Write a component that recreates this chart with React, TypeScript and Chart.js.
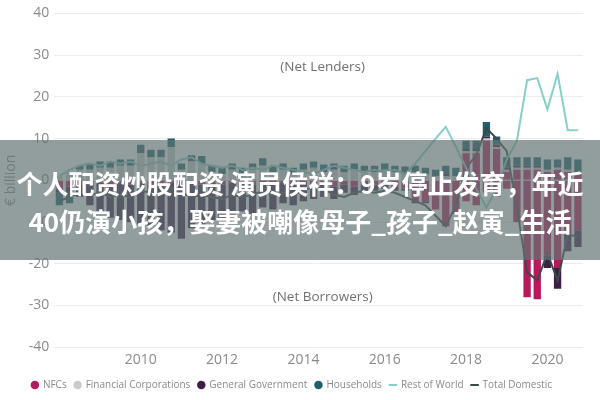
import { useEffect, useRef } from "react";
import { Chart, registerables } from "chart.js";

Chart.register(...registerables);

// quarterly, 2008 Q1 .. 2020 Q4, € billion
const years = [2008, 2009, 2010, 2011, 2012, 2013, 2014, 2015, 2016, 2017, 2018, 2019, 2020];
const quarterNames = ["Q1", "Q2", "Q3", "Q4"];
const categories = years.flatMap((y) => quarterNames.map((q) => `${y} ${q}`));
const tickYears = [2010, 2012, 2014, 2016, 2018, 2020];

const nfcs = [
  -2, -1.5, -1, -1,
  -0.5, -1, -0.5, -1,
  -0.5, -1, -1, -0.5,
  -1, -0.5, -1, -0.5,
  -1, -0.5, -0.5, -1,
  -0.5, -1, -0.5, -1,
  -1, -0.5, -1, -1.5,
  -1, -1.5, -1, -1,
  -1, -1.5, -2, -5,
  -5, -7, -11, -8,
  -5, -6, -3, -4,
  -2, -10, -28, -28.5,
  -18, -21, -13, -12,
];
// NFC amounts drawn above the zero line in the same quarters
const nfcsAbove = [
  0, 0, 0, 0,
  0, 0, 0, 0,
  0, 0, 0, 0,
  0, 0, 0, 0,
  0, 0, 0, 0,
  0, 0, 0, 0,
  0, 0, 0, 0,
  0, 0, 0, 0,
  0, 0, 0, 0,
  0, 0, 0, 0,
  6.5, 6.5, 9.5, 7.5,
  2, 2.5, 2.5, 2.5,
  2, 2.5, 2, 1.5,
];
const financialCorps = [
  1, 2, 2.5, 2.5,
  3, 3, 3.5, 3.5,
  6.5, 5.5, 5.5, 8,
  2.5, 4.5, 4, 2,
  1.5, 2.5, 1.5, 2.5,
  3.5, 2, 2.5, 1.5,
  2.5, 3, 2, 2.5,
  2, 2.5, 2, 2,
  2.5, 2, 1.5, 2,
  1.5, 1, 1, 1,
  0.5, 0.5, 0.5, 0.5,
  0.5, 0.5, 0.5, 0.5,
  0.5, 0.5, 0.5, 0.5,
];
const generalGov = [
  -1, -2, -3, -5,
  -7, -8, -9, -9,
  -10, -10, -11, -12,
  -13, -11, -10, -9,
  -8, -8, -7, -7,
  -6, -6, -5, -5,
  -4, -4, -3, -3,
  -2, -2, -2, -1.5,
  -1, -1, -0.5, -0.5,
  -0.5, 0, 0.5, 0,
  0.5, 0.5, 0.5, 0.5,
  0.5, 0.5, 0.5, 0.5,
  -3, -5, -4, -4,
];
const households = [
  -3, -2, 1, 1.5,
  1.5, 1.5, 1.5, 1.5,
  2, 1.8, 1.8, 2,
  1.5, 1.5, 1.8, 1.6,
  1.5, 1.5, 1.5, 1.5,
  1.8, 1.5, 1.5, 1.5,
  1.5, 1.5, 1.8, 1.5,
  1.5, 1.5, 1.5, 1.5,
  1.5, 1.5, 1.8, 1.5,
  1.5, 1.5, 2, 2,
  2, 2, 3.5, 2,
  2.5, 2, 2, 2,
  2.5, 2, 3, 3,
];
const restOfWorld = [
  1, 2.5, 3.5, 4,
  3.5, 4.5, 4, 4.5,
  3.5, 4, 4.5, 3.5,
  5, 5.5, 4, 3.5,
  3, 3.5, 2.5, 3,
  2.5, 3.5, 3, 2.5,
  2, 1.5, 2.5, 3.5,
  3, 2.5, 2, 2.5,
  2, 2.5, 1.5, 4,
  7, 10, 12.8, 8,
  3, -2, -6.5, -2,
  5, 9.5, 24, 24.5,
  17, 25.5, 12, 12,
];
const totalDomestic = [
  -5, -4, -3, -3.5,
  -3, -4, -3.5, -4,
  -2.5, -3, -3.5, -2,
  -3, -4, -3.5, -4,
  -4.5, -3.5, -4, -3.5,
  -2.5, -3.5, -3, -3.5,
  -2.5, -1.5, -2, -3.5,
  -4, -3, -2.5, -3,
  -2.5, -3, -4, -5,
  -6, -8.5, -11, -6,
  0, 6, 12.5, 10,
  2, -6.5, -22, -24,
  -17.5, -24, -13, -13.5,
];

const zoneNotes = ["(Net Lenders)", "(Net Borrowers)"];
const bannerLines = [
  "个人配资炒股配资 演员侯祥：9岁停止发育，年近",
  "40仍演小孩，娶妻被嘲像母子_孩子_赵寅_生活",
];

const zoneNotesPlugin = {
  id: "zoneNotes",
  afterDatasetsDraw(chart: Chart) {
    const { ctx, chartArea } = chart;
    const y = chart.scales.y;
    const cx = (chartArea.left + chartArea.right) / 2 + 4;
    ctx.save();
    ctx.font = '13.5px "Open Sans", sans-serif';
    ctx.fillStyle = "#72706e";
    ctx.textAlign = "center";
    ctx.textBaseline = "middle";
    ctx.fillText(zoneNotes[0], cx, y.getPixelForValue(27));
    ctx.fillText(zoneNotes[1], cx, y.getPixelForValue(-28));
    ctx.restore();
  },
};

export default function App() {
  const chartRef = useRef<HTMLCanvasElement>(null);

  useEffect(() => {
    if (!chartRef.current) return;

    const barCommon = {
      type: "bar" as const,
      stack: "sectors",
      order: 1,
      pointStyle: "circle",
      barPercentage: 0.72,
      categoryPercentage: 1,
    };

    const chart = new Chart(chartRef.current, {
      type: "bar",
      data: {
        labels: categories,
        datasets: [
          { ...barCommon, label: "NFCs", data: nfcs, backgroundColor: "#b8195c" },
          { ...barCommon, label: "NFCs above", data: nfcsAbove, backgroundColor: "#b8195c" },
          { ...barCommon, label: "Financial Corporations", data: financialCorps, backgroundColor: "#cbcbcb" },
          { ...barCommon, label: "General Government", data: generalGov, backgroundColor: "#3b1f46" },
          { ...barCommon, label: "Households", data: households, backgroundColor: "#1d5f6d" },
          {
            type: "line",
            label: "Rest of World",
            data: restOfWorld,
            borderColor: "#86d0c9",
            backgroundColor: "#86d0c9",
            borderWidth: 2,
            pointRadius: 0,
            pointStyle: "line",
            order: 0,
          },
          {
            type: "line",
            label: "Total Domestic",
            data: totalDomestic,
            borderColor: "#3c4849",
            backgroundColor: "#3c4849",
            borderWidth: 2,
            pointRadius: 0,
            pointStyle: "line",
            order: 0,
          },
        ],
      },
      options: {
        responsive: true,
        maintainAspectRatio: false,
        animation: false,
        layout: { padding: { left: 1, right: 17, top: 9, bottom: 0 } },
        scales: {
          x: {
            stacked: true,
            grid: { display: false, drawTicks: false },
            border: { display: false },
            ticks: {
              autoSkip: false,
              maxRotation: 0,
              padding: 4,
              color: "#8a8a8a",
              font: { family: '"Open Sans", sans-serif', size: 14 },
              callback: (_v, i) => {
                const [yr, q] = categories[i].split(" ");
                return q === "Q1" && tickYears.includes(Number(yr)) ? yr : "";
              },
            },
          },
          y: {
            stacked: true,
            min: -40,
            max: 40,
            ticks: {
              stepSize: 10,
              padding: 5,
              color: "#8a8a8a",
              font: { family: '"Open Sans", sans-serif', size: 14 },
            },
            grid: { color: "#ececec", drawTicks: false },
            border: { display: false },
            title: {
              display: true,
              text: "€ billion",
              color: "#8a8a8a",
              padding: { top: 2, bottom: 4 },
              font: { family: '"Open Sans", sans-serif', size: 14 },
            },
          },
        },
        plugins: {
          tooltip: { enabled: false },
          legend: {
            position: "bottom",
            labels: {
              usePointStyle: true,
              boxWidth: 6,
              boxHeight: 6,
              padding: 8,
              color: "#8a8a8a",
              font: { family: '"Open Sans", sans-serif', size: 10 },
              filter: (item) => item.datasetIndex !== 1,
              sort: (a, b) => (a.datasetIndex ?? 0) - (b.datasetIndex ?? 0),
            },
          },
        },
      },
      plugins: [zoneNotesPlugin],
    });

    return () => chart.destroy();
  }, []);

  return (
    <div style={{ position: "fixed", left: 0, top: 0, width: 600, height: 400, background: "#fff" }}>
      <canvas ref={chartRef}></canvas>
      <div
        style={{
          position: "absolute",
          left: 0,
          top: 140,
          width: 600,
          height: 120,
          background: "rgba(100,115,115,0.7)",
          display: "flex",
          flexDirection: "column",
          justifyContent: "center",
          alignItems: "center",
          color: "#fff",
          fontFamily: '"Noto Sans CJK SC", sans-serif',
          fontWeight: 700,
          fontSize: 26,
          lineHeight: "38px",
          paddingTop: 4,
          boxSizing: "border-box",
          whiteSpace: "nowrap",
        }}
      >
        <div>{bannerLines[0]}</div>
        <div>{bannerLines[1]}</div>
      </div>
    </div>
  );
}
